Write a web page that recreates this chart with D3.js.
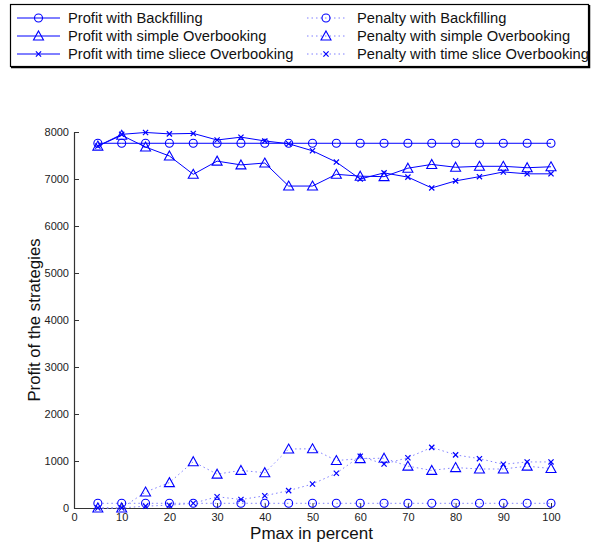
<!DOCTYPE html>
<html>
<head>
<meta charset="utf-8">
<script src="https://cdn.jsdelivr.net/npm/d3@7"></script>
<style>
  html, body { margin: 0; padding: 0; background: #fff; }
  svg { display: block; font-family: "Liberation Sans", Arial, Helvetica, sans-serif; }
</style>
</head>
<body>
<svg id="chart" width="592" height="545"></svg>
<script>
// Pmax values (percent)
const pmax = [5, 10, 15, 20, 25, 30, 35, 40, 45, 50, 55, 60, 65, 70, 75, 80, 85, 90, 95, 100];

// Profit series
const profitBackfilling = [7760, 7760, 7760, 7760, 7760, 7760, 7760, 7760, 7760, 7760, 7760, 7760, 7760, 7760, 7760, 7760, 7760, 7760, 7760, 7760];
const profitSimple = [7700, 7930, 7680, 7490, 7100, 7380, 7300, 7340, 6850, 6850, 7100, 7060, 7050, 7230, 7310, 7250, 7270, 7270, 7240, 7260];
const profitTimeSlice = [7700, 7950, 7990, 7960, 7970, 7830, 7890, 7810, 7750, 7600, 7360, 7000, 7130, 7040, 6810, 6960, 7050, 7150, 7110, 7110];

// Penalty series
const penaltyBackfilling = [100, 100, 100, 100, 100, 100, 100, 100, 100, 100, 100, 100, 100, 100, 100, 100, 100, 100, 100, 100];
const penaltySimple = [0, 0, 340, 540, 985, 720, 800, 750, 1255, 1260, 1010, 1050, 1060, 890, 800, 860, 830, 830, 890, 840];
const penaltyTimeSlice = [0, 0, 40, 60, 100, 240, 180, 260, 370, 510, 740, 1100, 935, 1070, 1290, 1130, 1050, 930, 980, 980];

const xTicks = [0, 10, 20, 30, 40, 50, 60, 70, 80, 90, 100];
const yTicks = [0, 1000, 2000, 3000, 4000, 5000, 6000, 7000, 8000];

const series = [
  { name: "Profit with Backfilling", values: profitBackfilling, marker: "circle", dotted: false },
  { name: "Profit with simple Overbooking", values: profitSimple, marker: "triangle", dotted: false },
  { name: "Profit with time sliece Overbooking", values: profitTimeSlice, marker: "x", dotted: false },
  { name: "Penalty with Backfilling", values: penaltyBackfilling, marker: "circle", dotted: true },
  { name: "Penalty with simple Overbooking", values: penaltySimple, marker: "triangle", dotted: true },
  { name: "Penalty with time slice Overbooking", values: penaltyTimeSlice, marker: "x", dotted: true }
];

const blue = "#0000ff";
const svg = d3.select("#chart");

const x = d3.scaleLinear().domain([0, 100]).range([74, 551]);
const y = d3.scaleLinear().domain([0, 8000]).range([508, 132]);

// Axes (ticks point inward)
const xAxis = d3.axisBottom(x).tickValues(xTicks).tickFormat(d3.format("d"))
  .tickSizeInner(-5).tickSizeOuter(0).tickPadding(5);
const yAxis = d3.axisLeft(y).tickValues(yTicks).tickFormat(d3.format("d"))
  .tickSizeInner(-5).tickSizeOuter(0).tickPadding(5);

const gx = svg.append("g").attr("transform", `translate(0,${y(0)})`).call(xAxis);
const gy = svg.append("g").attr("transform", `translate(${x(0)},0)`).call(yAxis);
[gx, gy].forEach(g => {
  g.select(".domain").attr("stroke", "#333").attr("stroke-width", 1.2);
  g.selectAll(".tick line").attr("stroke", "#333");
  g.selectAll(".tick text").attr("fill", "#222").attr("font-size", 11)
    .attr("font-family", "Liberation Sans, Arial, sans-serif");
});

// Axis titles
svg.append("text").attr("x", (x(0) + x(100)) / 2 - 1).attr("y", 539)
  .attr("text-anchor", "middle").attr("font-size", 17).attr("fill", "#111")
  .text("Pmax in percent");
svg.append("text").attr("transform", `translate(40,${(y(0) + y(8000)) / 2}) rotate(-90)`)
  .attr("text-anchor", "middle").attr("font-size", 16.8).attr("fill", "#111")
  .text("Profit of the strategies");

// Marker drawing
function drawMarker(g, marker, cx, cy) {
  if (marker === "circle") {
    g.append("circle").attr("cx", cx).attr("cy", cy).attr("r", 4)
      .attr("fill", "none").attr("stroke", blue).attr("stroke-width", 1.1);
  } else if (marker === "triangle") {
    const s = 5;
    g.append("path").attr("d", `M${cx},${cy - s} L${cx + s},${cy + s * 0.8} L${cx - s},${cy + s * 0.8} Z`)
      .attr("fill", "none").attr("stroke", blue).attr("stroke-width", 1.1);
  } else {
    const s = 2.6;
    g.append("path").attr("d", `M${cx - s},${cy - s} L${cx + s},${cy + s} M${cx - s},${cy + s} L${cx + s},${cy - s}`)
      .attr("fill", "none").attr("stroke", blue).attr("stroke-width", 1.2);
  }
}

const line = d3.line().x((d, i) => x(pmax[i])).y(d => y(d));
const plot = svg.append("g");
series.forEach(s => {
  plot.append("path").datum(s.values).attr("d", line)
    .attr("fill", "none").attr("stroke", s.dotted ? "#8080ff" : blue)
    .attr("stroke-width", 1)
    .attr("stroke-dasharray", s.dotted ? "1.5,3" : null);
  s.values.forEach((v, i) => drawMarker(plot, s.marker, x(pmax[i]), y(v)));
});

// Legend box
const legend = svg.append("g");
legend.append("rect").attr("x", 10.5).attr("y", 4.5).attr("width", 578).attr("height", 62)
  .attr("fill", "#fff").attr("stroke", "#000").attr("stroke-width", 1.2);
legend.append("path").attr("d", "M11,67.5 H589.5 V5").attr("fill", "none").attr("stroke", "#000").attr("stroke-width", 1.5);

const rowY = [18, 36, 54];
const cols = [
  { x0: 17, x1: 60, tx: 68 },
  { x0: 307, x1: 345, tx: 357 }
];
series.forEach((s, k) => {
  const c = cols[k < 3 ? 0 : 1];
  const ry = rowY[k % 3];
  legend.append("line").attr("x1", c.x0).attr("x2", c.x1).attr("y1", ry).attr("y2", ry)
    .attr("stroke", s.dotted ? "#8080ff" : blue).attr("stroke-width", 1)
    .attr("stroke-dasharray", s.dotted ? "1.5,3" : null);
  drawMarker(legend, s.marker, (c.x0 + c.x1) / 2, ry);
  legend.append("text").attr("x", c.tx).attr("y", ry + 5).attr("font-size", 14.7).attr("fill", "#111")
    .text(s.name);
});
</script>
</body>
</html>
